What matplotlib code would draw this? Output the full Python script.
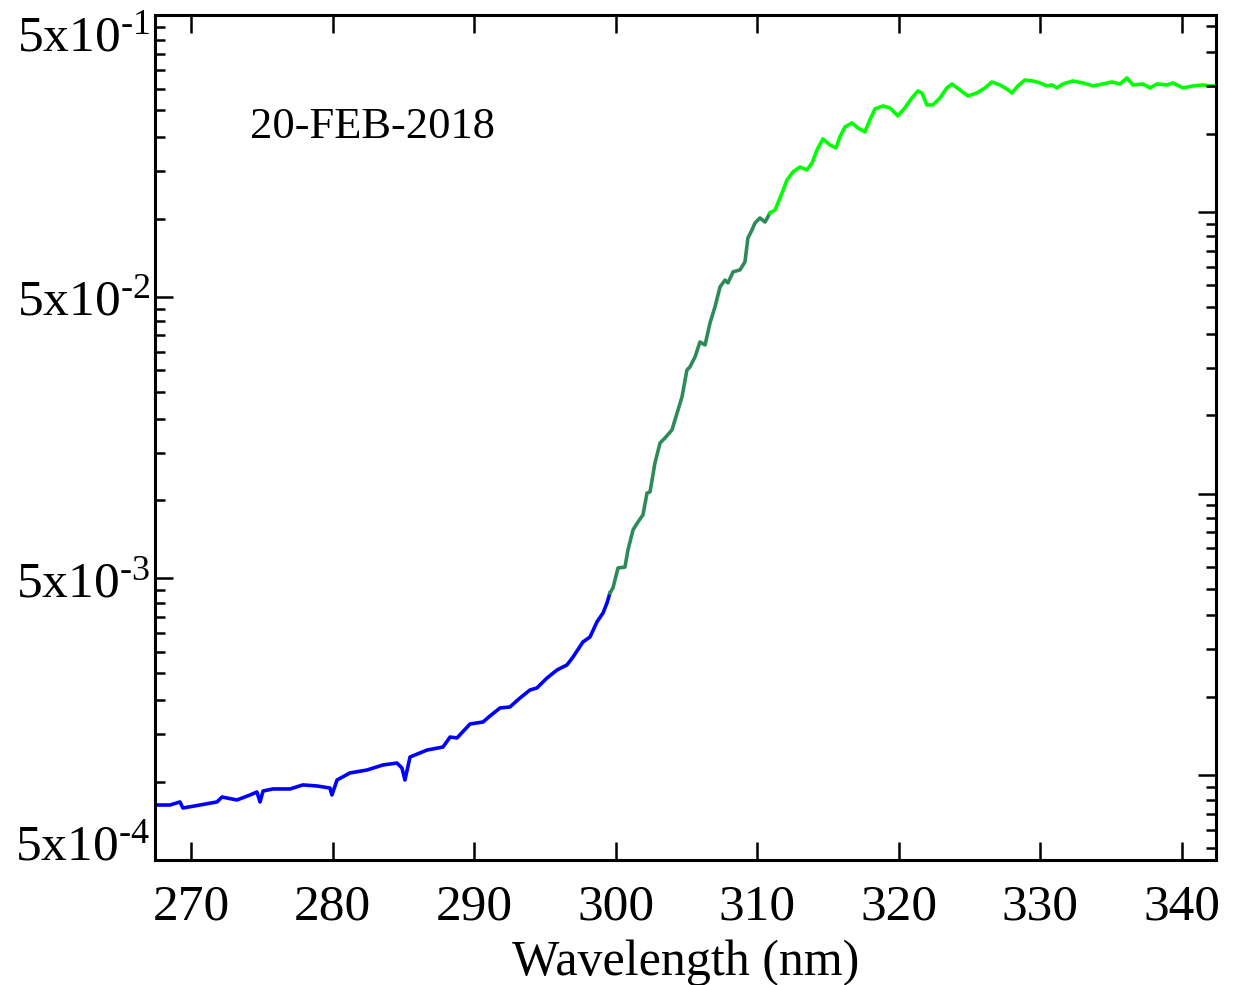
import matplotlib
matplotlib.use('Agg')
import matplotlib.pyplot as plt
from matplotlib.ticker import FixedLocator, NullFormatter, FixedFormatter

plt.rcParams['font.family'] = ['Liberation Serif', 'DejaVu Serif']
plt.rcParams['mathtext.fontset'] = 'stix'

# short-wave range (blue)
wl_short = [267.47, 268.49, 269.20, 269.41, 270.61, 271.82, 272.17, 273.23, 274.15, 274.64,
            274.86, 275.07, 275.77, 276.98, 277.89, 278.88, 279.80, 279.94, 280.30, 281.21,
            282.42, 283.55, 284.54, 284.89, 285.10, 285.46, 286.66, 287.79, 288.29, 288.78,
            289.70, 290.62, 291.11, 291.82, 292.52, 293.23, 293.94, 294.43, 295.14, 295.85,
            296.55, 296.98, 297.68, 298.18, 298.67, 299.10, 299.38, 299.59]
val_short = [7.84e-4, 7.84e-4, 8.04e-4, 7.65e-4, 7.84e-4, 8.04e-4, 8.37e-4, 8.17e-4, 8.51e-4, 8.72e-4,
             8.04e-4, 8.79e-4, 8.94e-4, 8.94e-4, 9.24e-4, 9.16e-4, 9.01e-4, 8.51e-4, 9.62e-4, 1.019e-3,
             1.044e-3, 1.088e-3, 1.105e-3, 1.061e-3, 9.62e-4, 1.161e-3, 1.229e-3, 1.260e-3, 1.367e-3, 1.357e-3,
             1.521e-3, 1.546e-3, 1.624e-3, 1.734e-3, 1.748e-3, 1.881e-3, 2.009e-3, 2.042e-3, 2.216e-3, 2.366e-3,
             2.465e-3, 2.631e-3, 2.975e-3, 3.099e-3, 3.505e-3, 3.771e-3, 4.093e-3, 4.441e-3]

# middle range (dark green)
wl_mid = [299.59, 299.80, 300.16, 300.65, 300.86, 301.22, 301.57, 301.92, 302.21, 302.42,
          302.77, 303.13, 303.48, 303.97, 304.40, 304.68, 305.03, 305.24, 305.60, 305.95,
          306.31, 306.66, 307.01, 307.37, 307.72, 307.93, 308.29, 308.78, 309.13, 309.34,
          309.63, 309.84, 310.19, 310.55, 310.90]
val_mid = [4.441e-3, 4.627e-3, 5.45e-3, 5.49e-3, 6.31e-3, 7.44e-3, 7.94e-3, 8.41e-3, 1.006e-2, 1.015e-2,
           1.286e-2, 1.515e-2, 1.578e-2, 1.685e-2, 1.984e-2, 2.207e-2, 2.752e-2, 2.820e-2, 3.061e-2, 3.461e-2,
           3.377e-2, 4.042e-2, 4.607e-2, 5.43e-2, 5.74e-2, 5.61e-2, 6.14e-2, 6.24e-2, 6.66e-2, 8.10e-2,
           8.65e-2, 9.16e-2, 9.54e-2, 9.23e-2, 9.94e-2]

# long-wave range (bright green)
wl_long = [310.90, 311.26, 311.75, 312.10, 312.52, 313.02, 313.51, 313.87, 314.22, 314.64,
           315.14, 315.56, 315.84, 316.20, 316.69, 317.12, 317.61, 317.96, 318.32, 318.88,
           319.38, 319.94, 320.43, 320.93, 321.35, 321.64, 321.99, 322.41, 322.91, 323.40,
           323.76, 324.32, 324.89, 325.52, 326.09, 326.58, 327.15, 327.64, 328.00, 328.42,
           328.92, 329.48, 329.98, 330.47, 330.83, 331.18, 331.60, 332.31, 333.02, 333.73,
           334.43, 335.07, 335.64, 336.13, 336.56, 337.26, 337.76, 338.25, 338.96, 339.38,
           340.09, 340.80, 341.50, 342.00, 342.42]
val_long = [0.0994, 0.1019, 0.1171, 0.1302, 0.1390, 0.1448, 0.1413, 0.1496, 0.1664, 0.1821,
            0.1734, 0.1692, 0.1851, 0.2009, 0.2076, 0.1992, 0.1928, 0.2128, 0.2328, 0.2385,
            0.2347, 0.2198, 0.2347, 0.2546, 0.2696, 0.2653, 0.2405, 0.2405, 0.2546, 0.2764,
            0.2855, 0.2718, 0.2588, 0.2653, 0.2764, 0.2902, 0.2832, 0.2740, 0.2653, 0.2810,
            0.2950, 0.2926, 0.2879, 0.2810, 0.2832, 0.2764, 0.2855, 0.2926, 0.2879, 0.2810,
            0.2855, 0.2902, 0.2855, 0.2999, 0.2832, 0.2855, 0.2764, 0.2855, 0.2832, 0.2879,
            0.2764, 0.2810, 0.2832, 0.2810, 0.2810]

date_text = '20-FEB-2018'
x_ticks = [270, 280, 290, 300, 310, 320, 330, 340]
left_major = [5e-4, 5e-3, 5e-2, 5e-1]
# hyphen (U+2010) rather than a math minus in the exponents
left_labels = ['$\\mathregular{5x10^{\u20104}}$', '$\\mathregular{5x10^{\u20103}}$',
               '$\\mathregular{5x10^{\u20102}}$', '$\\mathregular{5x10^{\u20101}}$']
right_major = [1e-3, 1e-2, 1e-1]
ymin, ymax = 5e-4, 5e-1


def linear_minors(majors, lo, hi):
    # ten equal linear steps between neighbouring majors, extended one decade each side
    edges = [majors[0] / 10] + majors + [majors[-1] * 10]
    out = []
    for a, b in zip(edges[:-1], edges[1:]):
        for k in range(1, 10):
            t = a + k * (b - a) / 10
            if lo < t < hi:
                out.append(t)
    return out


fig = plt.figure(figsize=(12.36, 9.85), dpi=100)
ax = fig.add_axes([0.1258, 0.1269, 0.8580, 0.8574])

ax.plot(wl_short, val_short, color='#0000ff', lw=2.6)
ax.plot(wl_mid, val_mid, color='#2e8b57', lw=2.6)
ax.plot(wl_long, val_long, color='#00ff00', lw=2.6)

ax.set_yscale('log')
ax.set_xlim(267.47, 342.42)
ax.set_ylim(ymin, ymax)

ax.set_xticks(x_ticks)
ax.xaxis.set_minor_locator(FixedLocator([]))
ax.yaxis.set_major_locator(FixedLocator(left_major))
ax.yaxis.set_major_formatter(FixedFormatter(left_labels))
ax.yaxis.set_minor_locator(FixedLocator(linear_minors(left_major, ymin, ymax)))
ax.yaxis.set_minor_formatter(NullFormatter())

ax.tick_params(axis='both', which='both', direction='in', width=1.8, labelsize=37)
ax.tick_params(axis='both', which='major', length=13)
ax.tick_params(axis='both', which='minor', length=7)
ax.tick_params(axis='x', top=True, pad=17)
ax.tick_params(axis='y', right=False, pad=4)
for s in ax.spines.values():
    s.set_linewidth(2.2)

# right side carries its own decade ticks, no labels
ax2 = ax.twinx()
ax2.set_yscale('log')
ax2.set_ylim(ymin, ymax)
ax2.yaxis.set_major_locator(FixedLocator(right_major))
ax2.yaxis.set_minor_locator(FixedLocator(linear_minors(right_major, ymin, ymax)))
ax2.yaxis.set_major_formatter(NullFormatter())
ax2.yaxis.set_minor_formatter(NullFormatter())
ax2.tick_params(which='both', direction='in', width=1.8)
ax2.tick_params(which='major', length=13)
ax2.tick_params(which='minor', length=7)

# keep the end labels inside the figure
ticks = ax.yaxis.get_major_ticks()
ticks[0].label1.set_verticalalignment('baseline')
ticks[-1].label1.set_verticalalignment('top')

ax.set_xlabel('Wavelength (nm)', fontsize=36, labelpad=7)
ax.text(0.089, 0.855, date_text, transform=ax.transAxes, fontsize=32, va='baseline')

fig.savefig('out.png', dpi=100)
